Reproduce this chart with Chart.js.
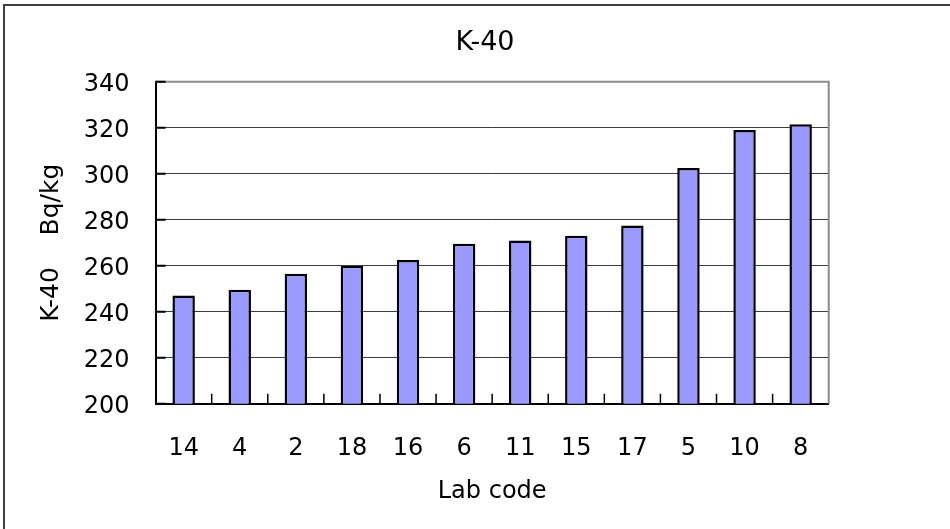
<!DOCTYPE html>
<html>
<head>
<meta charset="utf-8">
<script src="https://cdn.jsdelivr.net/npm/chart.js@4/dist/chart.umd.min.js"></script>
<style>
  html, body { margin: 0; padding: 0; background: #ffffff; }
  #wrap { width: 950px; height: 529px; position: relative; }
</style>
</head>
<body>
<div id="wrap"><canvas id="c" width="950" height="529"></canvas></div>
<script>
// Lab codes, ordered by increasing K-40 activity
const labCodes = ['14', '4', '2', '18', '16', '6', '11', '15', '17', '5', '10', '8'];
// K-40 activity concentration (Bq/kg) reported by each lab
const k40Values = [247, 249.5, 256.5, 260, 262.5, 269.5, 271, 273, 277.5, 302.5, 319, 321.5];
// Value axis range and step
const yMin = 200;
const yMax = 340;
const yStep = 20;

const FONT = "'DejaVu Sans', sans-serif";

// Frame lines, plot-area outline and inward tick marks
const framePlugin = {
  id: 'frame',
  beforeDraw(chart) {
    const ctx = chart.ctx;
    ctx.save();
    ctx.strokeStyle = '#404040';
    ctx.lineWidth = 2;
    ctx.beginPath();
    ctx.moveTo(4, 529);
    ctx.lineTo(4, 5);
    ctx.lineTo(950, 5);
    ctx.stroke();
    ctx.restore();
  },
  afterDraw(chart) {
    const ctx = chart.ctx;
    const a = chart.chartArea;
    const xs = chart.scales.x;
    const ys = chart.scales.y;
    ctx.save();
    // top and right edges of the plot area
    ctx.strokeStyle = '#8a8a8a';
    ctx.lineWidth = 2;
    ctx.beginPath();
    ctx.moveTo(a.left, a.top);
    ctx.lineTo(a.right, a.top);
    ctx.lineTo(a.right, a.bottom);
    ctx.stroke();
    // inward ticks on the value axis
    ctx.strokeStyle = '#000';
    ctx.lineWidth = 2;
    ctx.beginPath();
    ys.ticks.forEach((t, i) => {
      const y = ys.getPixelForTick(i);
      ctx.moveTo(a.left, y);
      ctx.lineTo(a.left + 10, y);
    });
    ctx.stroke();
    // inward ticks between categories
    ctx.lineWidth = 1.5;
    ctx.beginPath();
    for (let i = 1; i < labCodes.length; i++) {
      const x = (xs.getPixelForValue(i - 1) + xs.getPixelForValue(i)) / 2;
      ctx.moveTo(x, a.bottom);
      ctx.lineTo(x, a.bottom - 10);
    }
    ctx.stroke();
    ctx.restore();
  }
};

new Chart(document.getElementById('c'), {
  type: 'bar',
  data: {
    labels: labCodes,
    datasets: [{
      data: k40Values,
      backgroundColor: '#9999ff',
      borderColor: '#000000',
      borderWidth: 2.5,
      borderSkipped: false,
      categoryPercentage: 1.0,
      barPercentage: 0.4
    }]
  },
  options: {
    responsive: false,
    animation: false,
    devicePixelRatio: 1,
    layout: { padding: { left: 20, right: 0, top: 0, bottom: 0 } },
    plugins: {
      legend: { display: false },
      tooltip: { enabled: false },
      title: {
        display: true,
        text: 'K-40',
        color: '#000',
        font: { family: FONT, size: 27, weight: 'normal' },
        padding: { top: 27, bottom: 22.3 }
      }
    },
    scales: {
      x: {
        grid: { display: false, drawTicks: false },
        border: { display: true, color: '#000', width: 2 },
        ticks: {
          color: '#000',
          font: { family: FONT, size: 24 },
          padding: 31,
          maxRotation: 0,
          autoSkip: false
        },
        title: {
          display: true,
          text: 'Lab code',
          color: '#000',
          font: { family: FONT, size: 24 },
          padding: { top: 0, bottom: 23 }
        },
        afterFit(scale) { scale.height = 125.3; }
      },
      y: {
        min: yMin,
        max: yMax,
        grid: { color: '#3c3c3c', lineWidth: 1, drawTicks: false },
        border: { display: true, color: '#000', width: 2 },
        ticks: {
          stepSize: yStep,
          color: '#000',
          font: { family: FONT, size: 24 },
          padding: 26,
          labelOffset: 3
        },
        title: {
          display: true,
          text: 'K-40    Bq/kg',
          color: '#000',
          font: { family: FONT, size: 25 },
          padding: { top: 16, bottom: 0 }
        },
        afterFit(scale) { scale.width = 135.6; }
      },
      // empty right-hand band that keeps the plot area clear of the edge
      yRight: {
        position: 'right',
        display: true,
        grid: { display: false, drawTicks: false },
        border: { display: false },
        ticks: { display: false },
        title: { display: false },
        afterFit(scale) { scale.width = 121.3; }
      }
    }
  },
  plugins: [framePlugin]
});
</script>
</body>
</html>
